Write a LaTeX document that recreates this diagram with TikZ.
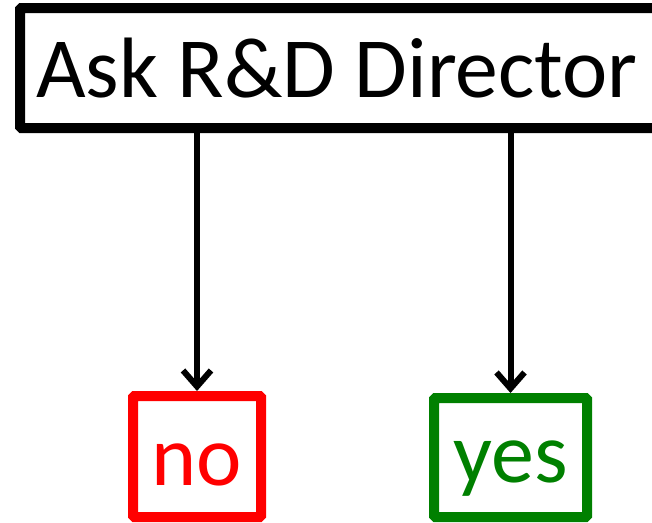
\documentclass[tikz,border=0pt]{standalone}
\usepackage{fontspec}
\setmainfont{Carlito}
\usetikzlibrary{arrows.meta}
\definecolor{yesgreen}{RGB}{0,128,0}
\begin{document}
\begin{tikzpicture}[x=1pt,y=-1pt,
  box/.style={draw,line width=10pt,rounded corners=1.5pt,inner sep=0pt},
  arr/.style={line width=6pt,-{Straight Barb[length=16pt,width=28pt,line width=6pt]}}]
\useasboundingbox (0,0) rectangle (652,522);
\clip (0,0) rectangle (652,522);
\node[box,minimum width=647pt,minimum height=120pt,font=\fontsize{85.7}{90}\selectfont] (top) at (343.5,68) {\hspace*{-13pt}Ask R\&D Director};
\node[box,draw=red,text=red,minimum width=128pt,minimum height=121pt,text height=57pt,text depth=0pt,font=\fontsize{86}{90}\selectfont] (no) at (197,456.5) {no};
\node[box,draw=yesgreen,text=yesgreen,minimum width=153pt,minimum height=119pt,text height=49pt,text depth=0pt,font=\fontsize{86}{90}\selectfont] (yes) at (510.5,457.5) {yes};
\draw[arr] (top.south -| no.north) -- (no.north);
\draw[arr] ([yshift=4pt]top.south -| yes.north) -- (yes.north);
\end{tikzpicture}
\end{document}
